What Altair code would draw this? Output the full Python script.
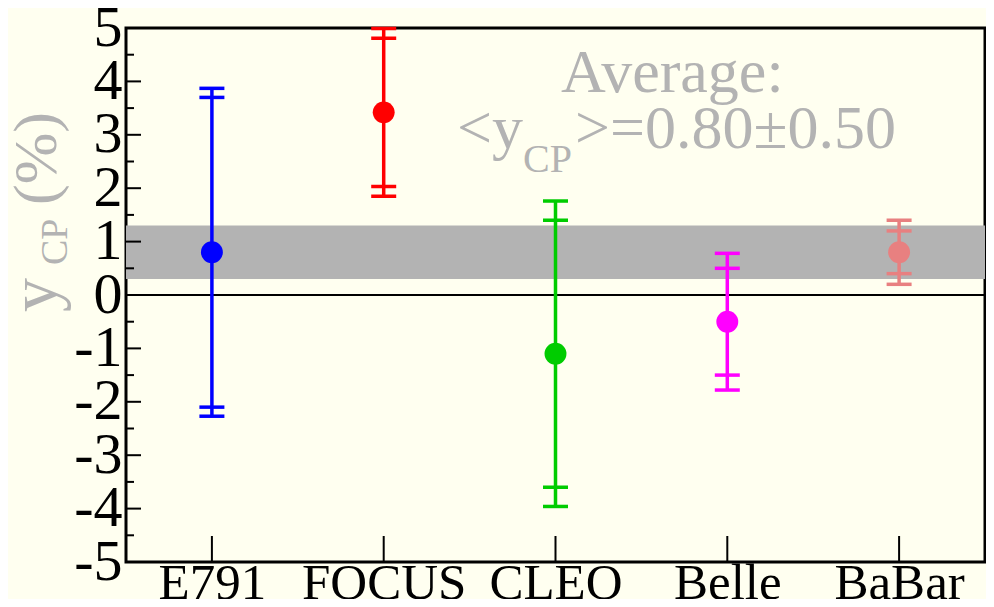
import altair as alt
import pandas as pd

experiments = ["E791", "FOCUS", "CLEO", "Belle", "BaBar"]
values = [0.80, 3.42, -1.10, -0.50, 0.80]
stat_err = [2.90, 1.39, 2.50, 1.00, 0.40]
total_err = [3.07, 1.57, 2.86, 1.28, 0.60]
colors = ["#0000ff", "#ff0000", "#00cc00", "#ff00ff", "#e88080"]
avg_value = 0.80
avg_err = 0.50
y_ticks_major = [-5, -4, -3, -2, -1, 0, 1, 2, 3, 4, 5]
y_ticks_minor = [-4.5, -3.5, -2.5, -1.5, -0.5, 0.5, 1.5, 2.5, 3.5, 4.5]

W, H = 859, 534
FONT = "Liberation Serif"
GRAY = "#b3b3b3"

df = pd.DataFrame({
    "exp": experiments,
    "val": values,
    "stat_lo": [v - s for v, s in zip(values, stat_err)],
    "stat_hi": [v + s for v, s in zip(values, stat_err)],
    "tot_lo": [v - t for v, t in zip(values, total_err)],
    "tot_hi": [v + t for v, t in zip(values, total_err)],
})
caps = pd.DataFrame({
    "exp": experiments * 4,
    "cap": list(df["stat_lo"]) + list(df["stat_hi"]) + list(df["tot_lo"]) + list(df["tot_hi"]),
})

xscale = alt.Scale(type="point", domain=experiments, padding=0.5)
yscale = alt.Scale(domain=[-5, 5], nice=False, zero=False)
cscale = alt.Scale(domain=experiments, range=colors)

xaxis = alt.Axis(title=None, labelAngle=0, ticks=False, domain=False, grid=False,
                 labelFont=FONT, labelFontSize=51, labelColor="black",
                 labelPadding=36, labelBaseline="alphabetic", labelAlign="center",
                 labelFlush=False, labelOverlap=False, labelBound=False)
yaxis = alt.Axis(title=None, values=y_ticks_major, ticks=False, domain=False, grid=False,
                 labelFont=FONT, labelFontSize=58, labelColor="black", labelPadding=4,
                 labelBaseline="middle", labelFlush=False, labelOverlap=False,
                 labelExpr="datum.value < 0 ? '-' + abs(datum.value) : datum.label")

band = alt.Chart(pd.DataFrame({"lo": [avg_value - avg_err], "hi": [avg_value + avg_err]})).mark_rect(
    color=GRAY).encode(
    x=alt.value(0), x2=alt.value(W),
    y=alt.Y("lo:Q", scale=yscale, axis=yaxis), y2="hi:Q")

zero = alt.Chart(pd.DataFrame({"z": [0]})).mark_rule(color="black", strokeWidth=2).encode(
    y=alt.Y("z:Q", scale=yscale), x=alt.value(0), x2=alt.value(W))

ymaj = alt.Chart(pd.DataFrame({"t": y_ticks_major})).mark_rule(color="black", strokeWidth=2).encode(
    y=alt.Y("t:Q", scale=yscale), x=alt.value(0), x2=alt.value(15))
ymin = alt.Chart(pd.DataFrame({"t": y_ticks_minor})).mark_rule(color="black", strokeWidth=2).encode(
    y=alt.Y("t:Q", scale=yscale), x=alt.value(0), x2=alt.value(8))
xt = alt.Chart(pd.DataFrame({"exp": experiments})).mark_rule(color="black", strokeWidth=2).encode(
    x=alt.X("exp:N", scale=xscale, sort=experiments, axis=xaxis),
    y=alt.value(H), y2=alt.value(H - 26))

bars = alt.Chart(df).mark_rule(strokeWidth=3.5).encode(
    x=alt.X("exp:N", scale=xscale, sort=experiments, axis=xaxis),
    y=alt.Y("tot_lo:Q", scale=yscale), y2="tot_hi:Q",
    color=alt.Color("exp:N", scale=cscale, legend=None))

capmarks = alt.Chart(caps).mark_tick(size=25, thickness=3.5, opacity=1).encode(
    x=alt.X("exp:N", scale=xscale, sort=experiments, axis=xaxis),
    y=alt.Y("cap:Q", scale=yscale),
    color=alt.Color("exp:N", scale=cscale, legend=None))

points = alt.Chart(df).mark_circle(size=480, opacity=1).encode(
    x=alt.X("exp:N", scale=xscale, sort=experiments, axis=xaxis),
    y=alt.Y("val:Q", scale=yscale),
    color=alt.Color("exp:N", scale=cscale, legend=None))

def txt(s, x, y, size, angle=0):
    return alt.Chart(pd.DataFrame({"t": [s]})).mark_text(
        font=FONT, fontSize=size, color=GRAY, align="left", baseline="alphabetic",
        angle=angle).encode(text="t:N", x=alt.value(x), y=alt.value(y))

avg_str = ">=%.2f\u00b1%.2f" % (avg_value, avg_err)
annot = [
    txt("Average:", 435, 64, 62),
    txt("<y", 331, 120, 62),
    txt("CP", 397, 144, 40),
    txt(avg_str, 449, 120, 62),
    txt("y", -69, 284, 68, 270),
    txt("CP", -59, 237, 38, 270),
    txt("(%)", -70, 177, 62, 270),
]

chart = alt.layer(band, zero, ymin, ymaj, xt, bars, capmarks, points, *annot).properties(
    width=W, height=H, background="#fffff0",
    autosize=alt.AutoSizeParams(type="none"),
    padding={"left": 118, "top": 20, "right": 1, "bottom": 37},
).configure_view(stroke="black", strokeWidth=3, fill="#fffff0")

chart.save("out.html", embed_options={"renderer": "svg", "actions": False})
